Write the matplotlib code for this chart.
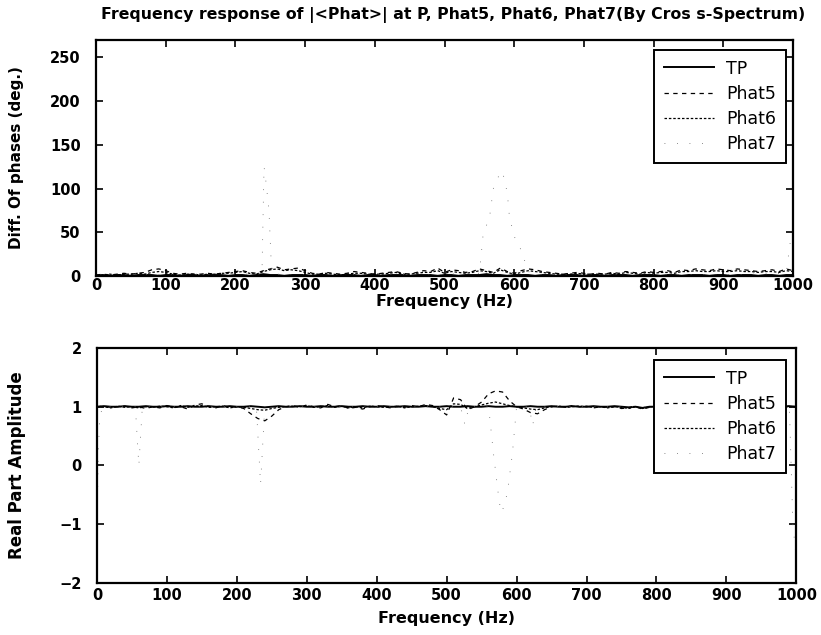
import matplotlib
matplotlib.use("Agg")
import matplotlib.pyplot as plt
import numpy as np

plt.rcParams['font.family'] = ['DejaVu Sans']

# ---------------- data ----------------
freq = list(range(0, 1001, 10))  # 101 points, Hz

# Top panel: difference of phases (deg.)
top_tp = [0, 1, 0, 1, 1, 0, 1, 1, 1, 0, 1, 1, 0, 1, 1, 0, 1, 1, 1, 0,
          1, 1, 0, 1, 2, 1, 1, 0, 1, 1, 1, 0, 1, 1, 0, 1, 1, 1, 0, 1,
          1, 0, 1, 1, 1, 0, 1, 1, 1, 0, 1, 1, 0, 1, 1, 1, 2, 1, 1, 0,
          1, 1, 1, 0, 1, 1, 0, 1, 1, 1, 0, 1, 1, 0, 1, 1, 1, 0, 1, 1,
          1, 0, 1, 1, 0, 1, 1, 1, 0, 1, 1, 0, 1, 1, 1, 0, 1, 1, 0, 1, 1]
top_p5 = [1, 2, 1, 2, 3, 2, 3, 4,
          7, 8, 6, 3,
          2, 3, 2, 2, 3, 2, 3, 4, 5, 6, 4, 3,
          6, 8, 10, 7, 8, 9, 6,
          3, 2, 4, 3, 2, 3, 5, 4, 3, 2, 3, 4, 5, 3, 2, 4, 6, 5, 9, 4,
          7, 6, 4, 5, 8, 6, 4, 9, 5, 3,
          6, 8, 7, 5, 4, 3, 2, 3, 4, 3,
          2, 3, 2, 4, 3, 5, 4, 3, 5, 4,
          5, 6, 4, 7, 6, 8, 7, 6, 8, 7,
          6, 8, 7, 6, 5, 6, 7, 5, 8, 6]
top_p6 = [1, 1, 2, 1, 2, 2, 3, 2,
          4, 5, 4, 2,
          1, 2, 2, 1, 2, 2, 3, 3, 4, 5, 3, 2,
          5, 7, 8, 6, 7, 6, 4,
          2, 2, 3, 2, 1, 2, 3, 3, 2, 2, 2, 3, 4, 2, 2, 3, 4, 4, 6, 3,
          5, 4, 3, 4, 6, 5, 3, 7, 4, 2,
          4, 6, 5, 4, 3, 2, 2, 2, 3, 2,
          2, 2, 2, 3, 2, 4, 3, 2, 4, 3,
          4, 4, 3, 5, 5, 6, 5, 5, 6, 5,
          5, 6, 5, 5, 4, 5, 5, 4, 6, 5]
top_p7_freq = [0, 60, 120, 180, 238, 241, 243, 248, 252, 320, 400, 480, 540,
               550, 555, 565, 570, 578, 583, 590, 593, 600, 607, 613, 620,
               630, 700, 800, 900, 990, 997, 1000]
top_p7 = [1, 2, 1, 2, 2, 125, 113, 76, 2, 1, 2, 1, 3,
          3, 45, 70, 100, 115, 120, 95, 68, 45, 35, 22, 5,
          2, 1, 2, 1, 3, 45, 50]

# Bottom panel: real part amplitude
bot_tp = [1.0, 1.01, 1.0, 1.0, 1.01, 1.0, 1.0, 1.01, 1.0, 1.0,
          1.01, 1.0, 1.0, 1.01, 1.0, 1.0, 1.01, 1.0, 1.0, 1.01,
          1.0, 1.0, 1.01, 1.0, 0.99, 1.0, 1.01, 1.0, 1.0, 1.01,
          1.0, 1.0, 1.01, 1.0, 1.0, 1.01, 1.0, 1.0, 1.01, 1.0,
          1.0, 1.01, 1.0, 1.0, 1.01, 1.0, 1.0, 1.01, 1.0, 1.0,
          1.01, 1.0, 1.0, 1.01, 1.0, 1.0, 1.01, 1.0, 1.0, 1.01,
          1.0, 1.0, 1.01, 1.0, 1.0, 1.01, 1.0, 1.0, 1.01, 1.0,
          1.0, 1.01, 1.0, 1.0, 1.01, 1.0, 0.99, 1.0, 0.98, 1.0,
          1.0, 1.01, 1.0, 1.0, 1.01, 1.0, 1.0, 1.01, 1.0, 1.0,
          1.01, 1.0, 1.0, 1.01, 1.0, 1.0, 1.01, 1.0, 1.0, 1.01, 1.0]
bot_p5 = [1.0, 1.01, 0.99, 1.0, 1.01, 0.98, 1.0, 0.97, 1.0, 0.98,
          1.02, 0.99, 1.0, 0.96, 1.03, 1.05, 1.0, 0.98, 1.02, 0.99,
          1.0, 0.97, 0.88, 0.8, 0.76, 0.84, 0.95, 1.0, 1.02, 0.99,
          1.03, 1.0, 0.98, 1.04, 1.0, 1.02, 0.97, 0.99, 0.96, 1.0,
          1.02, 1.0, 0.98, 1.01, 0.99, 1.02, 1.0, 1.04, 1.02, 0.95,
          0.86, 1.15, 1.12, 0.95, 1.0, 1.08, 1.22, 1.27, 1.25, 1.1,
          1.0, 0.96, 0.9, 0.88, 0.95, 1.0, 1.01, 0.99, 1.02, 1.0,
          1.01, 0.98, 1.0, 0.99, 1.0, 0.97, 0.98, 1.0, 0.96, 0.99,
          1.0, 1.01, 1.0, 1.0, 1.01, 1.0, 1.0, 1.01, 1.0, 1.0,
          1.01, 1.0, 1.0, 1.01, 1.0, 1.0, 1.01, 1.0, 1.0, 1.01, 1.0]
bot_p6 = [1.0, 1.0, 0.98, 1.01, 0.99, 1.0, 0.98, 1.0, 0.99, 1.01,
          1.0, 0.98, 1.02, 0.99, 1.01, 1.02, 0.99, 1.0, 1.01, 0.98,
          1.0, 0.99, 0.97, 0.95, 0.94, 0.97, 0.99, 1.0, 1.01, 1.0,
          1.02, 0.99, 1.0, 1.02, 0.99, 1.01, 0.98, 1.0, 0.98, 1.01,
          1.0, 0.99, 1.0, 1.01, 0.98, 1.0, 1.01, 1.02, 1.0, 0.97,
          0.95, 1.05, 1.04, 0.97, 1.0, 1.03, 1.06, 1.08, 1.05, 1.02,
          1.0, 0.98, 0.96, 0.95, 0.98, 1.0, 1.01, 0.99, 1.0, 1.01,
          1.0, 0.99, 1.0, 0.98, 1.0, 0.99, 0.97, 1.0, 0.97, 1.0,
          1.0, 1.0, 1.01, 1.0, 0.99, 1.0, 1.01, 1.0, 1.0, 0.99,
          1.0, 1.01, 1.0, 1.0, 0.99, 1.0, 1.0, 1.01, 1.0, 1.0, 1.0]
bot_p7_freq = [0, 1, 2, 4, 8, 55, 60, 65, 228, 234, 240, 520, 526, 532,
               560, 567, 570, 575, 578, 582, 587, 594, 600, 618, 623, 628,
               800, 990, 995, 1000]
bot_p7 = [-1.0, -0.5, 0.2, 0.8, 1.0, 1.0, 0.0, 1.0, 1.0, -0.32, 1.0, 1.0, 0.7, 1.0,
          1.0, 0.2, -0.1, -0.6, -0.8, -0.7, -0.45, 0.2, 1.0, 1.0, 0.68, 1.0,
          1.0, 1.0, -1.0, -1.6]

title = "Frequency response of |<Phat>| at P, Phat5, Phat6, Phat7(By Cros s-Spectrum)"
series_names = ["TP", "Phat5", "Phat6", "Phat7"]
xticks = [0, 100, 200, 300, 400, 500, 600, 700, 800, 900, 1000]
top_yticks = [0, 50, 100, 150, 200, 250]
bot_yticks = [-2, -1, 0, 1, 2]

# ---------------- styles ----------------
styles = [
    dict(color='black', lw=1.4, ls='-'),
    dict(color='black', lw=0.9, ls=(0, (3.5, 3.5))),
    dict(color='black', lw=0.9, ls=(0, (2, 1.5))),
    dict(color='#666666', lw=0.6, ls=(0, (1, 14))),
]

fig = plt.figure(figsize=(8.21, 6.35), dpi=100)
ax1 = fig.add_axes([0.117, 0.5655, 0.849, 0.3715])
ax2 = fig.add_axes([0.118, 0.0819, 0.852, 0.3701])


def style_axes(ax, yticks, ylim, ylabel, ylabel_size, ylab_x, xlab_y, xpad):
    ax.set_xlim(0, 1000)
    ax.set_ylim(*ylim)
    ax.set_xticks(xticks)
    ax.set_yticks(yticks)
    ax.tick_params(direction='in', top=True, right=True, length=5, width=1.2,
                   labelsize=10.5)
    ax.tick_params(axis='x', pad=xpad)
    ax.tick_params(axis='y', pad=11)
    for lab in ax.get_xticklabels() + ax.get_yticklabels():
        lab.set_fontweight('bold')
    for s in ax.spines.values():
        s.set_linewidth(1.6)
    ax.set_xlabel("Frequency (Hz)", fontsize=11.5, fontweight='bold')
    ax.xaxis.set_label_coords(0.5, xlab_y)
    ax.set_ylabel(ylabel, fontsize=ylabel_size, fontweight='bold')
    ax.yaxis.set_label_coords(ylab_x, 0.5)


top_data = [(freq, top_tp), (freq, top_p5), (freq, top_p6), (top_p7_freq, top_p7)]
bot_data = [(freq, bot_tp), (freq, bot_p5), (freq, bot_p6), (bot_p7_freq, bot_p7)]

for ax, data in ((ax1, top_data), (ax2, bot_data)):
    for (x, y), st, name in zip(data, styles, series_names):
        ax.plot(x, y, label=name, **st)

style_axes(ax1, top_yticks, (0, 270), "Diff. Of phases (deg.)", 11, -0.103, -0.075, 1.5)
style_axes(ax2, bot_yticks, (-2, 2), "Real Part Amplitude", 12, -0.101, -0.118, 3.5)

for ax, top_px in ((ax1, 50), (ax2, 360)):
    leg = ax.legend(loc='upper right', fontsize=12.5, frameon=True, fancybox=False,
                    edgecolor='black', framealpha=1, handlelength=2.9,
                    bbox_to_anchor=(786 / 821, 1 - top_px / 635),
                    bbox_transform=fig.transFigure,
                    borderaxespad=0, labelspacing=0.42, handletextpad=0.7,
                    borderpad=0.55)
    leg.get_frame().set_linewidth(1.4)

fig.text(0.552, 1 - 15 / 635, title, fontsize=11.3, fontweight='bold',
         ha='center', va='center')

fig.savefig("out.png", dpi=100)
